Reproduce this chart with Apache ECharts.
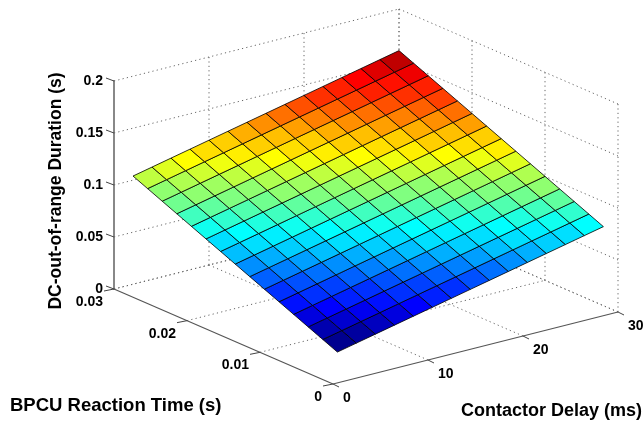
<!DOCTYPE html>
<html><head><meta charset="utf-8">
<style>html,body{margin:0;padding:0;background:#fff}#c{width:644px;height:422px}</style>
<script src="https://cdn.jsdelivr.net/npm/echarts@6/dist/echarts.min.js"></script>
</head><body><div id="c"></div>
<script>
// Contactor delay (ms) along one direction, BPCU reaction time (s) along the other
const delays = [2,4,6,8,10,12,14,16,18,20,22,24,26,28,30];
const reactionTimes = [0.002,0.004,0.006,0.008,0.010,0.012,0.014,0.016,0.018,0.020,0.022,0.024,0.026,0.028,0.030];
// DC-out-of-range duration (s), one list per reaction time
const durAt002 = [.020,.024,.028,.032,.036,.040,.044,.048,.052,.056,.060,.064,.068,.072,.076];
const durAt004 = [.026,.030,.034,.038,.042,.046,.050,.054,.058,.062,.066,.070,.074,.078,.082];
const durAt006 = [.032,.036,.040,.044,.048,.052,.056,.060,.064,.068,.072,.076,.080,.084,.088];
const durAt008 = [.038,.042,.046,.050,.054,.058,.062,.066,.070,.074,.078,.082,.086,.090,.094];
const durAt010 = [.044,.048,.052,.056,.060,.064,.068,.072,.076,.080,.084,.088,.092,.096,.100];
const durAt012 = [.050,.054,.058,.062,.066,.070,.074,.078,.082,.086,.090,.094,.098,.102,.106];
const durAt014 = [.056,.060,.064,.068,.072,.076,.080,.084,.088,.092,.096,.100,.104,.108,.112];
const durAt016 = [.062,.066,.070,.074,.078,.082,.086,.090,.094,.098,.102,.106,.110,.114,.118];
const durAt018 = [.068,.072,.076,.080,.084,.088,.092,.096,.100,.104,.108,.112,.116,.120,.124];
const durAt020 = [.074,.078,.082,.086,.090,.094,.098,.102,.106,.110,.114,.118,.122,.126,.130];
const durAt022 = [.080,.084,.088,.092,.096,.100,.104,.108,.112,.116,.120,.124,.128,.132,.136];
const durAt024 = [.086,.090,.094,.098,.102,.106,.110,.114,.118,.122,.126,.130,.134,.138,.142];
const durAt026 = [.092,.096,.100,.104,.108,.112,.116,.120,.124,.128,.132,.136,.140,.144,.148];
const durAt028 = [.098,.102,.106,.110,.114,.118,.122,.126,.130,.134,.138,.142,.146,.150,.154];
const durAt030 = [.104,.108,.112,.116,.120,.124,.128,.132,.136,.140,.144,.148,.152,.156,.160];
const durations = [durAt002,durAt004,durAt006,durAt008,durAt010,durAt012,durAt014,durAt016,durAt018,durAt020,durAt022,durAt024,durAt026,durAt028,durAt030];
const delayTicks = [0,10,20,30];
const reactionTicks = [0,0.01,0.02,0.03];
const durationTicks = [0,0.05,0.1,0.15,0.2];

// Oblique projection onto the hidden horizontal axis (U) and the real duration axis (V)
const X_MAX=30, Y_MAX=0.03, Z_MAX=0.2;
const PX_PER_Z=1040;
function proj(x,y,z){
  const fx=x/X_MAX, fy=y/Y_MAX;
  const U=219*(1-fy)+285*fx;
  const V=z+(72*fx-95*(1-fy))/PX_PER_Z;
  return [U,V];
}
// jet(64)
function u(t){return t<1||t>47?0:t<=16?t/16:t<=31?1:(48-t)/16;}
function jet(v,lo,hi){
  let k=Math.floor((v-lo)/(hi-lo)*64+1e-9)+1; k=Math.max(1,Math.min(64,k));
  const c=f=>Math.round(255*f);
  return 'rgb('+c(u(k-24))+','+c(u(k-8))+','+c(u(k+8))+')';
}
const zLo=Math.min(...durations.map(r=>Math.min(...r)));
const zHi=Math.max(...durations.map(r=>Math.max(...r)));

const cells=[];
for(let j=0;j<reactionTimes.length-1;j++)for(let i=0;i<delays.length-1;i++)cells.push([i,j]);

// guide segments: endpoints in data space
const guides=[], axisSegs=[];
function seg(a,b,list){list.push([a,b]);}
durationTicks.forEach(z=>{
  seg([0,Y_MAX,z],[X_MAX,Y_MAX,z],guides);
  seg([X_MAX,Y_MAX,z],[X_MAX,0,z],guides);
});
delayTicks.forEach(x=>{
  if(x>0) seg([x,0,0],[x,Y_MAX,0],guides);
  if(x>0) seg([x,Y_MAX,0],[x,Y_MAX,Z_MAX],guides);
});
reactionTicks.forEach(y=>{
  if(y>0) seg([0,y,0],[X_MAX,y,0],guides);
  if(y>0) seg([X_MAX,y,0],[X_MAX,y,Z_MAX],guides);
});
seg([X_MAX,0,0],[X_MAX,0,Z_MAX],guides);
seg([0,0,0],[X_MAX,0,0],axisSegs);
seg([0,0,0],[0,Y_MAX,0],axisSegs);

const family='"Liberation Sans", Arial, sans-serif';
const font='bold 14px '+family;

const option={
  animation:false,
  backgroundColor:'#fff',
  grid:{left:114,top:81,width:504,height:208,containLabel:false},
  xAxis:{type:'value',min:0,max:504,show:false},
  yAxis:{type:'value',min:0,max:Z_MAX,interval:0.05,
    axisLine:{show:true,lineStyle:{color:'#888',width:2}},
    axisTick:{show:false},splitLine:{show:false},
    axisLabel:{color:'#000',fontFamily:family,fontWeight:'bold',fontSize:14,margin:11,padding:[0,0,6,0]},
    name:'DC-out-of-range Duration (s)',nameLocation:'middle',nameGap:41,nameRotate:90,
    nameTextStyle:{color:'#000',fontFamily:family,fontWeight:'bold',fontSize:17.5,padding:[0,12,0,0]}
  },
  graphic:[
    {type:'text',x:10,y:406,style:{text:'BPCU Reaction Time (s)',font:'bold 18.5px '+family,fill:'#000',verticalAlign:'middle'}},
    {type:'text',x:461,y:411,style:{text:'Contactor Delay (ms)',font:'bold 18px '+family,fill:'#000',verticalAlign:'middle'}}
  ],
  series:[
    {type:'custom',coordinateSystem:'cartesian2d',clip:false,silent:true,z:1,
     data:guides.map((s,k)=>[k,0]),
     renderItem(p,api){
       const s=guides[p.dataIndex];
       const a=api.coord(proj(...s[0])),b=api.coord(proj(...s[1]));
       return {type:'line',shape:{x1:a[0],y1:a[1],x2:b[0],y2:b[1]},
         style:{stroke:'#666',lineWidth:1,lineDash:[1.2,3.2]}};
     }},
    {type:'custom',coordinateSystem:'cartesian2d',clip:false,silent:true,z:2,
     data:axisSegs.map((s,k)=>[k,0]),
     renderItem(p,api){
       const s=axisSegs[p.dataIndex];
       const a=api.coord(proj(...s[0])),b=api.coord(proj(...s[1]));
       return {type:'line',shape:{x1:a[0],y1:a[1],x2:b[0],y2:b[1]},
         style:{stroke:'#555',lineWidth:1.2}};
     }},
    {type:'custom',coordinateSystem:'cartesian2d',clip:false,silent:true,z:2,
     data:[...delayTicks.map((v,k)=>[k,0]),...reactionTicks.map((v,k)=>[k,1]),...durationTicks.map((v,k)=>[k,2])],
     renderItem(p,api){
       const k=api.value(0),t=api.value(1);
       let a,d;
       if(t===0){a=api.coord(proj(delayTicks[k],0,0));d=[6,3];}
       else if(t===1){a=api.coord(proj(0,reactionTicks[k],0));d=[-10,2];}
       else {a=api.coord(proj(0,Y_MAX,durationTicks[k]));d=[-8,-3];}
       return {type:'line',shape:{x1:a[0],y1:a[1],x2:a[0]+d[0],y2:a[1]+d[1]},
         style:{stroke:'#444',lineWidth:1}};
     }},
    {type:'custom',coordinateSystem:'cartesian2d',clip:false,silent:true,z:2,
     data:[...delayTicks.map((v,k)=>[k,0]),...reactionTicks.map((v,k)=>[k,1])],
     renderItem(p,api){
       const k=api.value(0),t=api.value(1);
       const a=t===0?api.coord(proj(delayTicks[k],0,0)):api.coord(proj(0,reactionTicks[k],0));
       return {type:'text',x:a[0]+(t===0?10:-11),y:a[1]+(t===0?14:13),
         style:{text:String(t===0?delayTicks[k]:reactionTicks[k]),font:font,fill:'#000',
           align:t===0?'left':'right',verticalAlign:'middle'}};
     }},
    {type:'custom',coordinateSystem:'cartesian2d',clip:false,silent:true,z:3,
     data:cells,
     renderItem(p,api){
       const i=api.value(0),j=api.value(1);
       const pts=[[i,j],[i+1,j],[i+1,j+1],[i,j+1]].map(q=>
         api.coord(proj(delays[q[0]],reactionTimes[q[1]],durations[q[1]][q[0]])));
       return {type:'polygon',shape:{points:pts},
         style:{fill:jet(durations[j][i],zLo,zHi),stroke:'rgba(0,0,0,0.8)',lineWidth:1}};
     }}
  ]
};
const chart=echarts.init(document.getElementById('c'),null,{renderer:'canvas'});
chart.setOption(option);
</script></body></html>
